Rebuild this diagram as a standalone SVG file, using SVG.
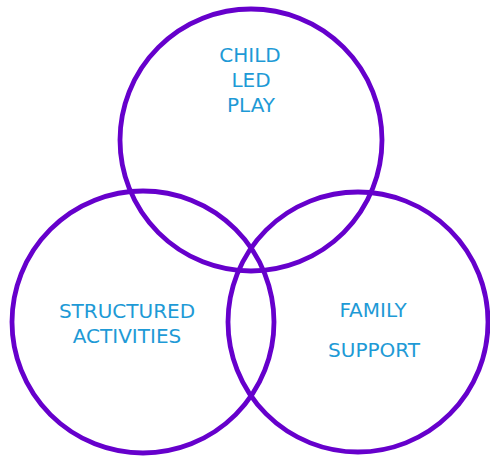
<svg xmlns="http://www.w3.org/2000/svg" width="490" height="457" viewBox="0 0 490 457">
<style>
.c{fill:none;stroke:#6600CC;stroke-width:4.8}
.t{font-family:"DejaVu Sans","Liberation Sans",sans-serif;font-size:20px;fill:#1E9AD6;text-anchor:middle}
</style>
<rect width="490" height="457" fill="#fff"/>
<g id="child-led-play">
<circle class="c" cx="251" cy="140" r="131"/>
<text class="t" x="250" y="62">CHILD</text>
<text class="t" x="251" y="87">LED</text>
<text class="t" x="251" y="112">PLAY</text>
</g>
<g id="structured-activities">
<circle class="c" cx="143" cy="322" r="131"/>
<text class="t" x="127" y="318">STRUCTURED</text>
<text class="t" x="127" y="343">ACTIVITIES</text>
</g>
<g id="family-support">
<circle class="c" cx="358" cy="322" r="130"/>
<text class="t" x="373" y="317">FAMILY</text>
<text class="t" x="374" y="357">SUPPORT</text>
</g>
<g id="connectors"></g>
</svg>
